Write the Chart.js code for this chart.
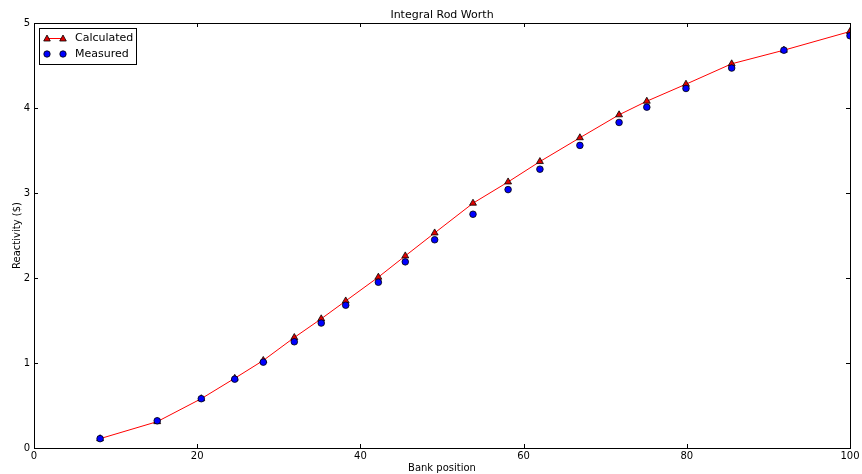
<!DOCTYPE html>
<html>
<head>
<meta charset="utf-8">
<script src="https://cdn.jsdelivr.net/npm/chart.js@4"></script>
<style>
  html, body { margin: 0; padding: 0; background: #fff; }
  #wrap { width: 862px; height: 474px; }
</style>
</head>
<body>
<div id="wrap"><canvas id="my-chart" width="862" height="474"></canvas></div>
<script>
// bank positions and reactivity
const position = [8.1, 15.1, 20.5, 24.6, 28.1, 31.9, 35.2, 38.2, 42.2, 45.5, 49.1,
                  53.8, 58.1, 62.0, 66.9, 71.7, 75.1, 79.9, 85.5, 91.9, 100];
const calculated = [0.11, 0.31, 0.58, 0.82, 1.03, 1.30, 1.52, 1.73, 2.01, 2.26, 2.53,
                    2.88, 3.13, 3.37, 3.65, 3.92, 4.08, 4.28, 4.52, 4.68, 4.90];
const measured = [0.11, 0.32, 0.58, 0.81, 1.01, 1.25, 1.47, 1.68, 1.95, 2.19, 2.45,
                  2.75, 3.04, 3.28, 3.56, 3.83, 4.01, 4.23, 4.47, 4.68, 4.85];
const xTicks = [0, 20, 40, 60, 80, 100];
const yTicks = [0, 1, 2, 3, 4, 5];

const FONT = 'DejaVu Sans';
Chart.defaults.font.family = FONT;
Chart.defaults.font.size = 10;
Chart.defaults.color = '#000';

const toPts = ys => position.map((x, i) => ({x: x, y: ys[i]}));

// frame, inward ticks on all four sides, title and legend, matplotlib style
const framePlugin = {
  id: 'frame',
  afterDraw(chart) {
    const ctx = chart.ctx, a = chart.chartArea;
    const xs = chart.scales.x, ys = chart.scales.y;
    ctx.save();
    ctx.strokeStyle = '#000';
    ctx.lineWidth = 1;
    ctx.strokeRect(a.left + 0.5, a.top + 0.5, a.right - a.left, a.bottom - a.top);
    ctx.beginPath();
    xTicks.forEach(v => {
      const px = Math.round(xs.getPixelForValue(v)) + 0.5;
      ctx.moveTo(px, a.bottom); ctx.lineTo(px, a.bottom - 4);
      ctx.moveTo(px, a.top); ctx.lineTo(px, a.top + 4);
    });
    yTicks.forEach(v => {
      const py = Math.round(ys.getPixelForValue(v)) + 0.5;
      ctx.moveTo(a.left, py); ctx.lineTo(a.left + 4, py);
      ctx.moveTo(a.right, py); ctx.lineTo(a.right - 4, py);
    });
    ctx.stroke();

    // title
    ctx.fillStyle = '#000';
    ctx.font = '11px ' + FONT;
    ctx.textAlign = 'center';
    ctx.textBaseline = 'alphabetic';
    ctx.fillText('Integral Rod Worth', (a.left + a.right) / 2, 18);

    // legend
    const lx = a.left + 5, ly = a.top + 5, lw = 97, lh = 36;
    ctx.fillStyle = '#fff';
    ctx.fillRect(lx, ly, lw, lh);
    ctx.strokeRect(lx + 0.5, ly + 0.5, lw, lh);
    const row1 = ly + 10.5, row2 = ly + 26;
    ctx.strokeStyle = '#ff0000';
    ctx.beginPath(); ctx.moveTo(lx + 8, row1); ctx.lineTo(lx + 24, row1); ctx.stroke();
    const tri = (cx, cy) => {
      ctx.beginPath();
      ctx.moveTo(cx, cy - 3.5); ctx.lineTo(cx + 3.3, cy + 2.5); ctx.lineTo(cx - 3.3, cy + 2.5);
      ctx.closePath();
      ctx.fillStyle = '#e00000'; ctx.fill();
      ctx.strokeStyle = '#000'; ctx.lineWidth = 0.8; ctx.stroke();
    };
    const dot = (cx, cy) => {
      ctx.beginPath(); ctx.arc(cx, cy, 3.2, 0, Math.PI * 2);
      ctx.fillStyle = '#0000ff'; ctx.fill();
      ctx.strokeStyle = '#000'; ctx.lineWidth = 0.8; ctx.stroke();
    };
    tri(lx + 8, row1); tri(lx + 24, row1);
    dot(lx + 8, row2); dot(lx + 24, row2);
    ctx.fillStyle = '#000';
    ctx.font = '11px ' + FONT;
    ctx.textAlign = 'left';
    ctx.textBaseline = 'middle';
    ctx.fillText(chart.data.datasets[0].label, lx + 36, row1);
    ctx.fillText(chart.data.datasets[1].label, lx + 36, row2);
    ctx.restore();
  }
};

new Chart(document.getElementById('my-chart').getContext('2d'), {
  type: 'scatter',
  data: {
    datasets: [
      {
        label: 'Calculated',
        data: toPts(calculated),
        showLine: true,
        borderColor: '#ff0000',
        borderWidth: 1,
        pointStyle: 'triangle',
        pointRadius: 4,
        pointBackgroundColor: '#e00000',
        pointBorderColor: '#000',
        pointBorderWidth: 0.8,
        order: 2
      },
      {
        label: 'Measured',
        data: toPts(measured),
        showLine: false,
        pointStyle: 'circle',
        pointRadius: 3.3,
        pointBackgroundColor: '#0000ff',
        pointBorderColor: '#000',
        pointBorderWidth: 0.8,
        order: 1
      }
    ]
  },
  options: {
    responsive: false,
    animation: false,
    layout: { padding: { top: 23, right: 12, bottom: 0, left: 0 } },
    plugins: {
      legend: { display: false },
      tooltip: { enabled: false }
    },
    scales: {
      x: {
        type: 'linear',
        min: 0, max: 100,
        afterBuildTicks: s => { s.ticks = xTicks.map(v => ({value: v})); },
        ticks: { autoSkip: false, maxRotation: 0, padding: 2 },
        grid: { display: false, drawTicks: false },
        border: { display: false },
        title: { display: true, text: 'Bank position', font: { size: 10 }, padding: { top: 0, bottom: 0 } },
        afterFit: s => { s.height = 26; }
      },
      y: {
        type: 'linear',
        min: 0, max: 5,
        afterBuildTicks: s => { s.ticks = yTicks.map(v => ({value: v})); },
        ticks: { padding: 4 },
        grid: { display: false, drawTicks: false },
        border: { display: false },
        title: { display: true, text: 'Reactivity ($)', font: { size: 10 }, padding: { top: 11, bottom: 0 } },
        afterFit: s => { s.width = 34; }
      }
    }
  },
  plugins: [framePlugin]
});
</script>
</body>
</html>
